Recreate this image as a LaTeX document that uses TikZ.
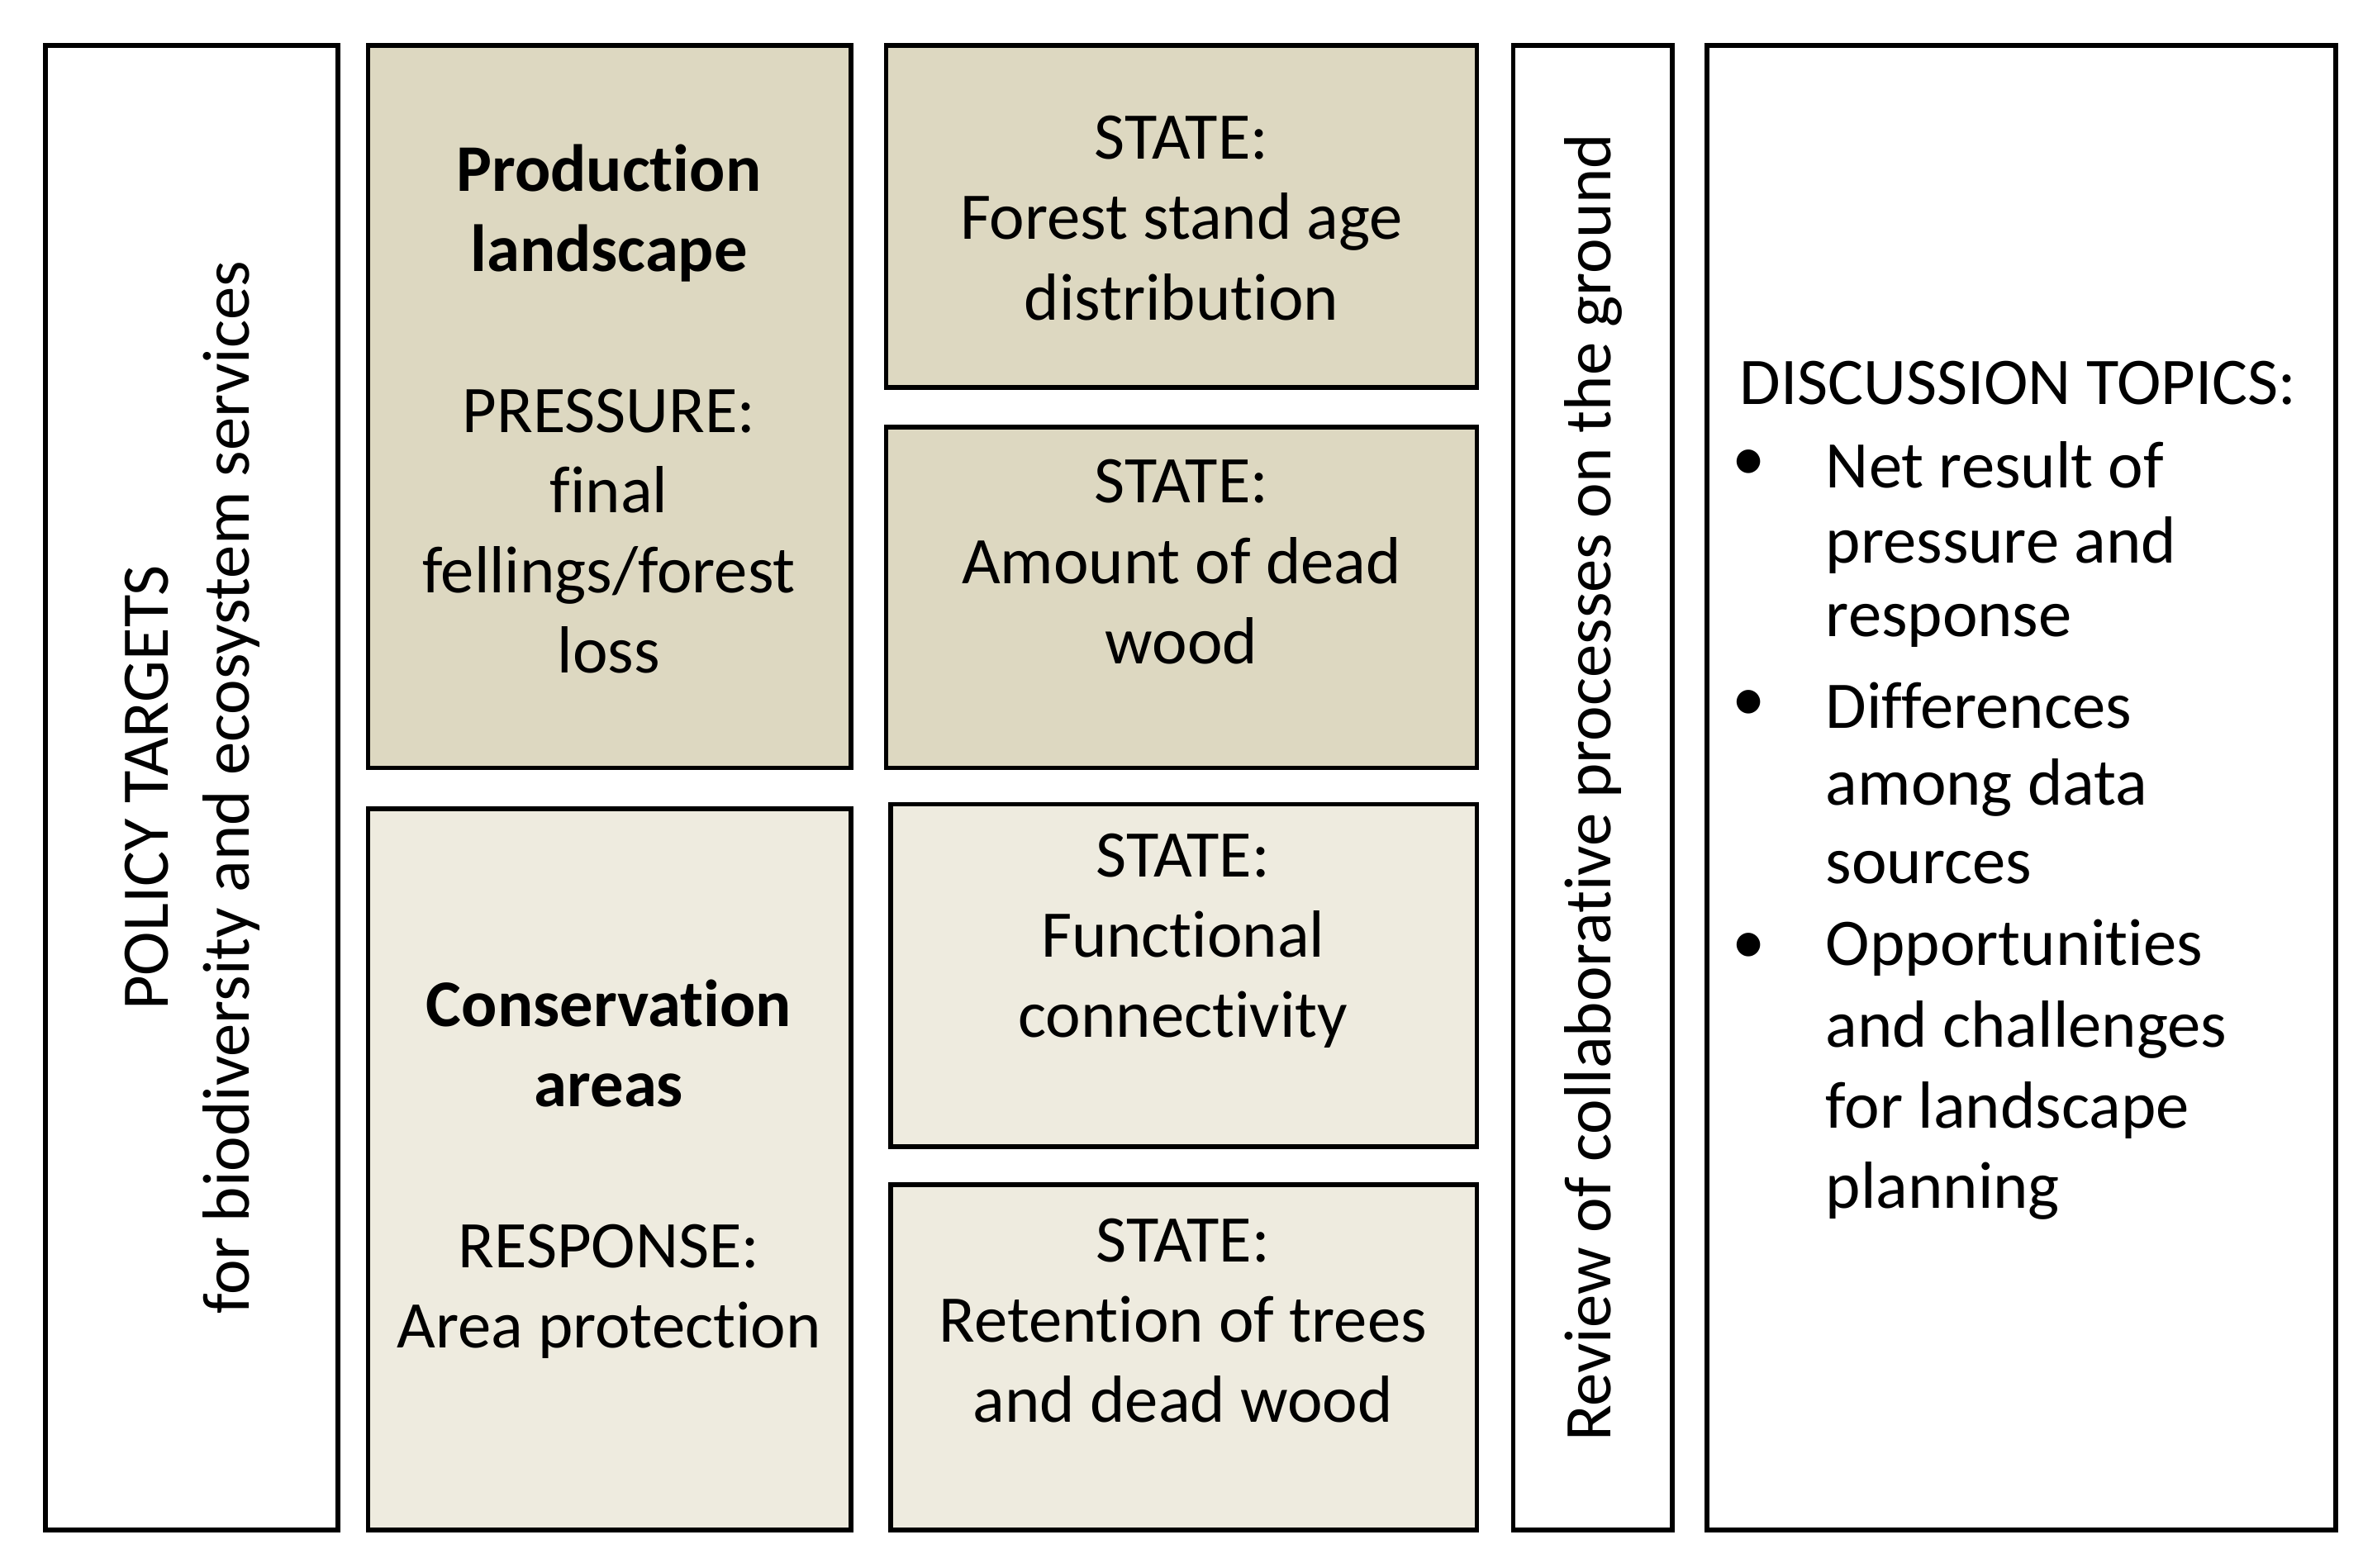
\documentclass[tikz,border=0pt]{standalone}
\usepackage{fontspec}
\setmainfont{Carlito}[Ligatures={NoCommon}]
\definecolor{dark}{HTML}{DDD8C1}
\definecolor{light}{HTML}{EEEBDF}
\begin{document}
\begin{tikzpicture}[x=0.5pt,y=-0.5pt,
  box/.style={draw=black,line width=1.6pt},
  txt/.style={align=center,font=\fontsize{22}{26.5}\selectfont,inner sep=0pt},
  lt/.style={anchor=west,font=\fontsize{22}{26.5}\selectfont,inner sep=0pt}]
\useasboundingbox (0,0) rectangle (1560,1035);
\draw[box] (30,30) rectangle (223,1010);
\draw[box,fill=dark] (243,30) rectangle (562,507);
\draw[box,fill=light] (243,534) rectangle (562,1010);
\draw[box,fill=dark] (585,30) rectangle (975,256);
\draw[box,fill=dark] (585,282) rectangle (975,507);
\draw[box,fill=light] (588,531) rectangle (975,757);
\draw[box,fill=light] (588,782) rectangle (975,1010);
\draw[box] (999,30) rectangle (1104,1010);
\draw[box] (1127,30) rectangle (1542,1010);
\node[txt,rotate=90] (pol) at (127,520) {POLICY TARGETS\\for biodiversity and ecosystem services};
\node[txt] (prod) at (402,270) {\textbf{Production}\\\textbf{landscape}\\[26.5pt]PRESSURE:\\final\\fellings/forest\\loss};
\node[txt] (cons) at (402,772) {\textbf{Conservation}\\\textbf{areas}\\[26.5pt]RESPONSE:\\Area protection};
\node[txt] (s1) at (780,144) {STATE:\\Forest stand age\\distribution};
\node[txt] (s2) at (780,371) {STATE:\\Amount of dead\\wood};
\node[txt] (s3) at (781,621) {STATE:\\Functional\\connectivity};
\node[txt] (s4) at (781,872) {STATE:\\Retention of trees\\and dead wood};
\node[txt,rotate=90] (rev) at (1052,520) {Review of collaborative processes on the ground};
\node[lt] (d0) at (1148,253) {DISCUSSION TOPICS:};
\foreach \y in {307,466,626} \node[lt] at (1143,\y) {\textbullet};
\node[lt] (d1) at (1205,307) {Net result of};
\node[lt] (d2) at (1205,360) {pressure and};
\node[lt] (d3) at (1205,413) {response};
\node[lt] (d4) at (1205,466) {Differences};
\node[lt] (d5) at (1205,520) {among data};
\node[lt] (d6) at (1205,573) {sources};
\node[lt] (d7) at (1205,626) {Opportunities};
\node[lt] (d8) at (1205,680) {and challenges};
\node[lt] (d9) at (1205,733) {for landscape};
\node[lt] (d10) at (1205,786) {planning};
\end{tikzpicture}
\end{document}
